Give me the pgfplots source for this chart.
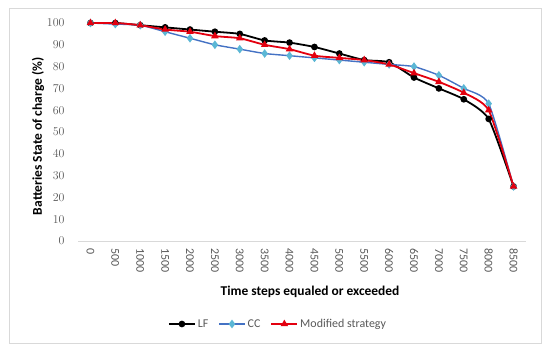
\documentclass[border=0pt]{standalone}
\usepackage{pgfplots}
\pgfplotsset{compat=1.18}
\usepackage{pgfplotstable}
\usepackage{fontspec}
\setmainfont{Carlito}
\definecolor{tickgray}{HTML}{595959}
\definecolor{axgray}{HTML}{D9D9D9}
\definecolor{ccblue}{HTML}{4472C4}
\definecolor{ccmark}{HTML}{5BB7D5}
\definecolor{modred}{HTML}{E3000F}
\definecolor{modmark}{HTML}{C00000}

\pgfplotstableread{
x LF CC MOD
0 100 100 100
1 100 99.5 100
2 99 99 99
3 98 96 97
4 97 93 96
5 96 90 94
6 95 88 93
7 92 86 90
8 91 85 88
9 89 84 85
10 86 83 84
11 83 82 83
12 82 81 81
13 75 80 77
14 70 76 73
15 65 70 68
16 56 63 60
17 25 25 25
}\datatable

\begin{document}
\begin{tikzpicture}
\useasboundingbox (-78bp,-111bp) rectangle (472bp,241bp);
\draw[axgray, line width=0.8bp] (-69bp,-102bp) rectangle (463bp,233bp);
\begin{axis}[
  at={(0,0)}, anchor=south west,
  scale only axis,
  width=448bp, height=218bp,
  xmin=-0.5, xmax=17.5,
  ymin=0, ymax=100,
  clip=false,
  xtick={0,...,17},
  xticklabels={0,500,1000,1500,2000,2500,3000,3500,4000,4500,5000,5500,6000,6500,7000,7500,8000,8500},
  ytick={0,10,...,100},
  axis x line*=bottom, axis y line*=left,
  x axis line style={draw=axgray, line width=0.8bp, -},
  y axis line style={draw=none},
  major tick length=0pt,
  tick label style={font=\fontsize{12}{14}\selectfont, text=tickgray},
  xticklabel style={rotate=-90, anchor=west, xshift=4bp},
  yticklabel style={anchor=east, xshift=-10bp},
  xlabel={Time steps equaled or exceeded},
  ylabel={Batteries State of charge (\%)},
  xlabel style={font=\bfseries\fontsize{13.5}{15}\selectfont, at={(axis description cs:0.518,0)}, anchor=center, yshift=-51bp},
  ylabel style={font=\bfseries\fontsize{13.5}{15}\selectfont, at={(axis description cs:-0.089,0.48)}, anchor=center},
  legend style={at={(200bp,-83bp)}, anchor=center, draw=none, legend columns=3, font=\fontsize{12}{14}\selectfont, text=tickgray,
    /tikz/every even column/.append style={column sep=8bp}},
  legend image code/.code={\draw[mark repeat=2,mark phase=2] plot coordinates {(0bp,0bp)(13bp,0bp)(26bp,0bp)};},
]
\addplot[black, line width=1.8bp, smooth, tension=0.35, mark=*, mark size=2.4bp, mark options={fill=black, solid}] table[x=x, y=LF] {\datatable};
\addlegendentry{LF}
\addplot[ccblue, line width=1.4bp, smooth, tension=0.35, mark=diamond*, mark size=3.2bp, mark options={fill=ccmark, draw=ccmark, solid}] table[x=x, y=CC] {\datatable};
\addlegendentry{CC}
\addplot[modred, line width=1.8bp, smooth, tension=0.35, mark=triangle*, mark size=2.6bp, mark options={fill=modred, draw=modred, solid}] table[x=x, y=MOD] {\datatable};
\addlegendentry{Modified strategy}
\end{axis}
\end{tikzpicture}
\end{document}
